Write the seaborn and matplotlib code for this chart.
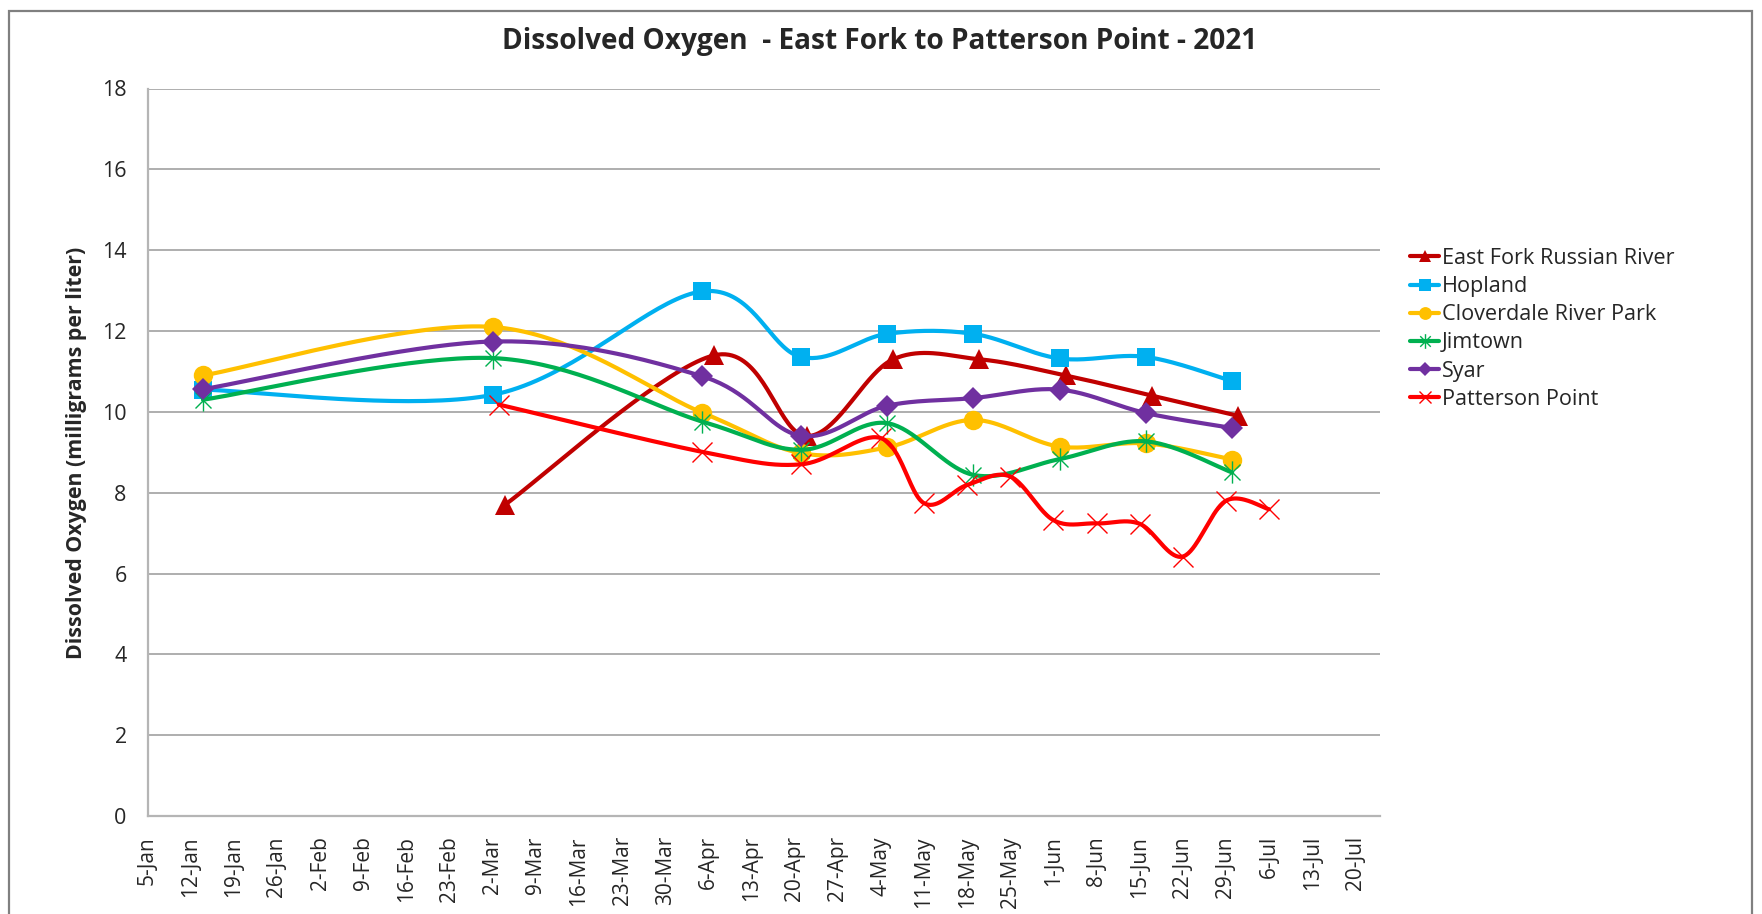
import numpy as np
import pandas as pd
import matplotlib
matplotlib.use("Agg")
import matplotlib.pyplot as plt
import seaborn as sns
from matplotlib.path import Path
from matplotlib.lines import Line2D
from matplotlib.patches import Rectangle
from matplotlib.ticker import FixedLocator, MultipleLocator

# ---- data -------------------------------------------------------------
sites = ["East Fork Russian River", "Hopland", "Cloverdale River Park",
         "Jimtown", "Syar", "Patterson Point"]

east_fork_dates = ["2021-03-04", "2021-04-07", "2021-04-22", "2021-05-06",
                   "2021-05-20", "2021-06-03", "2021-06-17", "2021-07-01"]
east_fork_do = [7.7, 11.4, 9.4, 11.3, 11.3, 10.9, 10.4, 9.9]

mainstem_dates = ["2021-01-14", "2021-03-02", "2021-04-05", "2021-04-21",
                  "2021-05-05", "2021-05-19", "2021-06-02", "2021-06-16",
                  "2021-06-30"]
hopland_do = [10.55, 10.42, 12.98, 11.36, 11.93, 11.93, 11.32, 11.36, 10.76]
cloverdale_do = [10.9, 12.1, 9.98, 8.98, 9.12, 9.8, 9.14, 9.22, 8.82]
jimtown_do = [10.3, 11.33, 9.76, 9.06, 9.72, 8.44, 8.83, 9.27, 8.5]
syar_do = [10.56, 11.74, 10.88, 9.41, 10.15, 10.34, 10.55, 9.97, 9.6]

patterson_dates = ["2021-03-03", "2021-04-05", "2021-04-21", "2021-05-04",
                   "2021-05-11", "2021-05-18", "2021-05-25", "2021-06-01",
                   "2021-06-08", "2021-06-15", "2021-06-22", "2021-06-29",
                   "2021-07-06"]
patterson_do = [10.18, 9.01, 8.7, 9.35, 7.74, 8.19, 8.4, 7.32, 7.24, 7.23,
                6.42, 7.8, 7.59]

colors = ["#C00000", "#00B0F0", "#FFC000", "#00B050", "#7030A0", "#FF0000"]

axis_start = pd.Timestamp("2021-01-05")
axis_days = 200
tick_dates = pd.date_range("2021-01-05", "2021-07-20", freq="7D")
tick_labels = [f"{d.day}-{d.strftime('%b')}" for d in tick_dates]

# ---- marker shapes ----------------------------------------------------
asterisk = Path(
    [(0, -1), (0, 1), (-0.72, -0.72), (0.72, 0.72), (-0.72, 0.72), (0.72, -0.72)],
    [Path.MOVETO, Path.LINETO, Path.MOVETO, Path.LINETO, Path.MOVETO, Path.LINETO],
)

styles = [
    dict(marker="^", ms=14.0, mew=0, filled=True),
    dict(marker="s", ms=13.0, mew=0, filled=True),
    dict(marker="o", ms=14.0, mew=0, filled=True),
    dict(marker=asterisk, ms=16.0, mew=1.0, filled=False),
    dict(marker="D", ms=11.5, mew=0, filled=True),
    dict(marker="x", ms=14.0, mew=1.0, filled=False),
]

series = [
    (east_fork_dates, east_fork_do),
    (mainstem_dates, hopland_do),
    (mainstem_dates, cloverdale_do),
    (mainstem_dates, jimtown_do),
    (mainstem_dates, syar_do),
    (patterson_dates, patterson_do),
]


def day_offset(dates):
    return np.array([(pd.Timestamp(d) - axis_start).days for d in dates], float)


def smooth_curve(x, y, n=40):
    """Bezier smoothing through every point (Catmull-Rom style control points)."""
    pts = np.column_stack([x, y])
    out = [pts[:1]]
    t = np.linspace(0, 1, n)[1:, None]
    for i in range(len(pts) - 1):
        p0 = pts[i - 1] if i > 0 else pts[i]
        p1, p2 = pts[i], pts[i + 1]
        p3 = pts[i + 2] if i + 2 < len(pts) else pts[i + 1]
        c1 = p1 + (p2 - p0) / 6.0
        c2 = p2 - (p3 - p1) / 6.0
        seg = ((1 - t) ** 3) * p1 + 3 * ((1 - t) ** 2) * t * c1 \
            + 3 * (1 - t) * t ** 2 * c2 + t ** 3 * p2
        out.append(seg)
    curve = np.vstack(out)
    return curve[:, 0], curve[:, 1]


# ---- figure -----------------------------------------------------------
sns.set_theme(style="white")
plt.rcParams["font.family"] = ["Open Sans", "DejaVu Sans"]

W, H = 1762, 914
fig = plt.figure(figsize=(W / 100, H / 100), dpi=100)
fig.patch.set_facecolor("white")

left, right, top, bottom = 147.5, 1380, 88.5, 816
ax = fig.add_axes([left / W, 1 - bottom / H, (right - left) / W, (bottom - top) / H])
ax.set_facecolor("white")

for k, (name, (dates, vals), col, st) in enumerate(zip(sites, series, colors, styles)):
    x = day_offset(dates)
    y = np.asarray(vals, float)
    cx, cy = smooth_curve(x, y)
    frame = pd.DataFrame({"x": cx, "y": cy})
    sns.lineplot(data=frame, x="x", y="y", sort=False, estimator=None,
                 color=col, linewidth=3.0, ax=ax, zorder=3 + 2 * k,
                 solid_capstyle="round", solid_joinstyle="round")
    ax.plot(x, y, linestyle="none", marker=st["marker"], markersize=st["ms"],
            markerfacecolor=col if st["filled"] else "none",
            markeredgecolor=col, markeredgewidth=st["mew"], zorder=4 + 2 * k)

# axes styling
ax.set_xlim(0, axis_days)
ax.set_ylim(0, 18)
ax.xaxis.set_major_locator(FixedLocator(day_offset(tick_dates)))
ax.set_xticklabels(tick_labels, rotation=90, fontsize=15)
ax.xaxis.set_minor_locator(MultipleLocator(3.5))
ax.yaxis.set_major_locator(MultipleLocator(2))
ax.yaxis.set_minor_locator(MultipleLocator(0.5))
ax.tick_params(axis="y", labelsize=15.5)
ax.set_xlabel("")
ax.set_ylabel("")

ax.grid(False)
for yv in range(2, 19, 2):
    ax.axhline(yv, color="#999999", linewidth=1.1, zorder=1)
for side in ["top", "right"]:
    ax.spines[side].set_visible(False)
for side in ["left", "bottom"]:
    ax.spines[side].set_color("#b5b5b5")
    ax.spines[side].set_linewidth(1.6)

ax.tick_params(axis="x", which="major", direction="inout", length=11, width=1.3,
               color="#b5b5b5", pad=9)
ax.tick_params(axis="x", which="minor", direction="out", length=5, width=1.1,
               color="#b5b5b5")
ax.tick_params(axis="y", which="major", direction="out", length=8, width=1.3,
               color="#a0a0a0", pad=7)
ax.tick_params(axis="y", which="minor", direction="out", length=6, width=1.1,
               color="#b5b5b5")
for lab in ax.get_xticklabels():
    lab.set_verticalalignment("top")

# legend
handles = [
    Line2D([], [], color=col, linewidth=3.0, marker=st["marker"],
           markersize=st["ms"] * 0.66,
           markerfacecolor=col if st["filled"] else "none",
           markeredgecolor=col, markeredgewidth=st["mew"])
    for col, st in zip(colors, styles)
]
fig.legend(handles, sites, loc="upper left",
           bbox_to_anchor=(1410 / W, 1 - 248 / H),
           frameon=False, handlelength=1.35, handletextpad=0.12,
           labelspacing=0.33, borderpad=0, borderaxespad=0,
           prop={"family": "Open Sans", "size": 15.6})

# titles
fig.text(880 / W, 1 - 42 / H,
         "Dissolved Oxygen  - East Fork to Patterson Point - 2021",
         ha="center", va="center", fontsize=20.2, fontweight="bold",
         family="Open Sans")
fig.text(77 / W, 1 - 453 / H, "Dissolved Oxygen (milligrams per liter)",
         ha="center", va="center", rotation=90, fontsize=15.4,
         fontweight="bold", family="Open Sans")

# chart border
fig.patches.append(Rectangle((9 / W, -0.1), (1752 - 9) / W, (H - 11) / H + 0.1,
                             transform=fig.transFigure, fill=False,
                             edgecolor="#808080", linewidth=1.6))

fig.savefig("out.png", dpi=100, facecolor="white")
